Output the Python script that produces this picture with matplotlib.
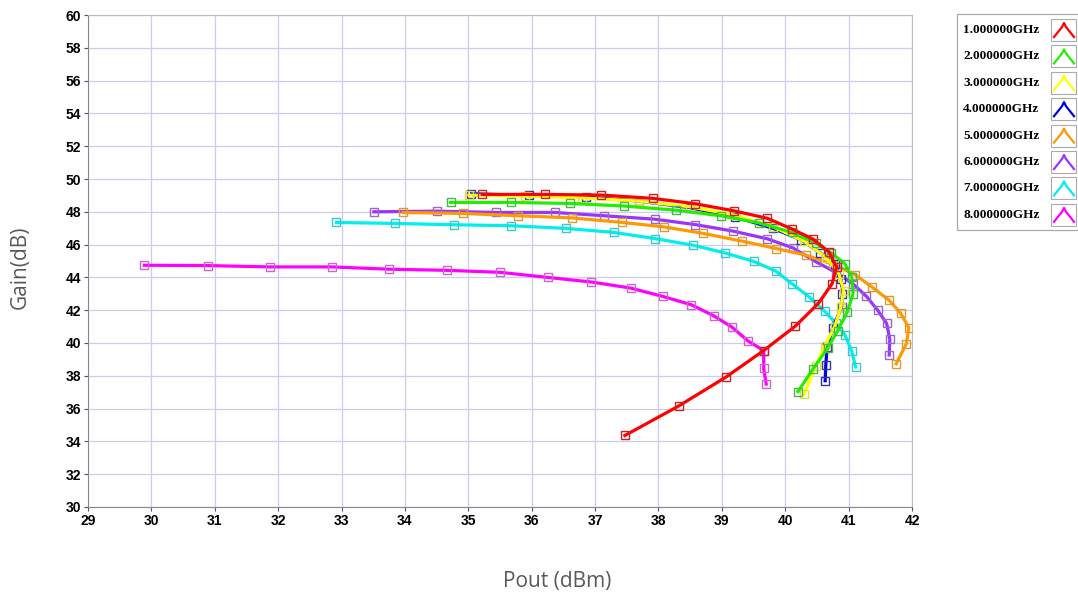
import numpy as np
import matplotlib
matplotlib.use("Agg")
import matplotlib.pyplot as plt
from matplotlib.lines import Line2D
from matplotlib.patches import Rectangle

# Pout (dBm) / Gain (dB) for each frequency
labels = ["1.000000GHz", "2.000000GHz", "3.000000GHz", "4.000000GHz",
          "5.000000GHz", "6.000000GHz", "7.000000GHz", "8.000000GHz"]
colors = ["#ff0000", "#22ee00", "#ffff00", "#0000dd",
          "#ff9900", "#9933ff", "#00eeee", "#ff00ff"]
mcolors = ["#cc2222", "#44bb44", "#dddd44", "#3333aa",
           "#dd9933", "#9966cc", "#33cccc", "#cc66cc"]

x1 = [35.22, 36.21, 37.10, 37.91, 38.58, 39.19, 39.72, 40.10, 40.44, 40.69, 40.81,
      40.74, 40.52, 40.16, 39.66, 39.06, 38.32, 37.47]
y1 = [49.06, 49.06, 49.02, 48.82, 48.49, 48.06, 47.60, 46.96, 46.33, 45.55, 44.64,
      43.62, 42.40, 41.03, 39.54, 37.91, 36.16, 34.36]

x2 = [34.72, 35.67, 36.60, 37.46, 38.28, 38.98, 39.58, 40.10, 40.48, 40.72, 40.94,
      41.05, 41.07, 40.98, 40.83, 40.67, 40.44, 40.20]
y2 = [48.57, 48.57, 48.51, 48.35, 48.10, 47.76, 47.33, 46.75, 46.10, 45.50, 44.84,
      44.00, 43.00, 41.90, 40.76, 39.70, 38.42, 37.04]

x3 = [35.01, 35.90, 36.80, 37.70, 38.50, 39.20, 39.80, 40.30, 40.65, 40.85, 40.92,
      40.88, 40.78, 40.62, 40.48, 40.30]
y3 = [49.02, 48.95, 48.85, 48.65, 48.30, 47.80, 47.10, 46.20, 45.20, 44.20, 43.20,
      42.20, 41.00, 39.80, 38.60, 36.90]

x4 = [35.05, 35.95, 36.85, 37.70, 38.50, 39.20, 39.80, 40.25, 40.55, 40.78, 40.88,
      40.90, 40.89, 40.75, 40.66, 40.64, 40.63]
y4 = [49.10, 49.00, 48.90, 48.65, 48.25, 47.70, 47.00, 46.30, 45.50, 44.84, 43.90,
      43.00, 42.20, 40.90, 39.74, 38.67, 37.70]

x5 = [33.97, 34.91, 35.79, 36.63, 37.43, 38.09, 38.71, 39.32, 39.86, 40.33, 40.75,
      41.10, 41.37, 41.64, 41.82, 41.95, 41.91, 41.75]
y5 = [47.96, 47.90, 47.76, 47.63, 47.35, 47.08, 46.68, 46.21, 45.76, 45.35, 44.80,
      44.17, 43.41, 42.60, 41.82, 40.93, 39.95, 38.73]

x6 = [33.51, 34.50, 35.44, 36.36, 37.14, 37.94, 38.58, 39.18, 39.72, 40.12, 40.49,
      40.80, 41.07, 41.28, 41.46, 41.60, 41.65, 41.64]
y6 = [48.00, 48.04, 47.96, 47.96, 47.76, 47.55, 47.22, 46.82, 46.35, 45.80, 44.94,
      44.30, 43.60, 42.85, 41.99, 41.19, 40.23, 39.27]

x7 = [32.92, 33.85, 34.78, 35.67, 36.54, 37.30, 37.94, 38.55, 39.05, 39.50, 39.85,
      40.11, 40.38, 40.62, 40.80, 40.94, 41.05, 41.11]
y7 = [47.35, 47.29, 47.21, 47.15, 46.99, 46.74, 46.37, 45.96, 45.49, 44.98, 44.39,
      43.60, 42.80, 41.94, 41.20, 40.50, 39.50, 38.54]

x8 = [29.89, 30.90, 31.87, 32.85, 33.75, 34.67, 35.50, 36.25, 36.94, 37.56, 38.07,
      38.52, 38.87, 39.16, 39.41, 39.66, 39.66, 39.70]
y8 = [44.74, 44.72, 44.64, 44.64, 44.50, 44.43, 44.31, 44.00, 43.72, 43.35, 42.84,
      42.33, 41.66, 40.97, 40.13, 39.54, 38.46, 37.50]

xs = [x1, x2, x3, x4, x5, x6, x7, x8]
ys = [y1, y2, y3, y4, y5, y6, y7, y8]

W, H = 1078, 596
fig = plt.figure(figsize=(W / 100, H / 100), dpi=100)
ax = fig.add_axes([88 / W, 1 - 507 / H, (912 - 88) / W, (507 - 15) / H])

# draw in reverse so 1 GHz ends on top
for i in reversed(range(8)):
    ax.plot(xs[i], ys[i], color=colors[i], lw=2.3, zorder=3 + (8 - i) * 0.1,
            marker="s", markersize=5.5, markerfacecolor="none",
            markeredgecolor=mcolors[i], markeredgewidth=1.0)

ax.set_xlim(29, 42)
ax.set_ylim(30, 60)
ax.set_xticks(np.arange(29, 43, 1))
ax.set_yticks(np.arange(30, 61, 2))
ax.grid(True, color="#ccccee", lw=0.9)
ax.set_axisbelow(True)
for s in ax.spines.values():
    s.set_color("#bbbbbb")
    s.set_linewidth(0.8)
ax.spines["left"].set_color("#888888")
ax.spines["bottom"].set_color("#888888")
ax.tick_params(length=3, width=0.8, color="#555555", labelsize=10, pad=2)
for t in ax.get_xticklabels() + ax.get_yticklabels():
    t.set_family(["Liberation Sans Narrow", "Liberation Sans"])
    t.set_fontweight("bold")

fig.text(20 / W, 1 - 267 / H, "Gain(dB)", rotation=90, ha="center", va="center",
         fontsize=15, color="#595959", family="Open Sans")
fig.text(557 / W, 1 - 581 / H, "Pout (dBm)", ha="center", va="center",
         fontsize=15, color="#595959", family="Open Sans")

# legend box, drawn by hand to match the instrument-style legend
fig.patches.append(Rectangle((957 / W, 1 - 230 / H), 140 / W, 216 / H,
                             transform=fig.transFigure, facecolor="white",
                             edgecolor="#aaaaaa", lw=0.9))
row0, step = 30, 26.4
for i in range(8):
    yc = row0 + step * i
    fig.text(963 / W, 1 - yc / H, labels[i], ha="left", va="center",
             fontsize=9.5, fontweight="bold", family="Liberation Serif")
    fig.patches.append(Rectangle((1051 / W, 1 - (yc + 11) / H), 25 / W, 22 / H,
                                 transform=fig.transFigure, facecolor="white",
                                 edgecolor="#aaaaaa", lw=0.8))
    px = np.array([1054, 1058, 1062, 1064, 1066, 1070, 1074])
    py = np.array([yc + 7, yc + 2, yc - 3, yc - 7, yc - 3, yc + 2, yc + 7])
    fig.lines.append(Line2D(px / W, 1 - py / H, transform=fig.transFigure,
                            color=colors[i], lw=1.6))

fig.savefig("out.png", dpi=100)
